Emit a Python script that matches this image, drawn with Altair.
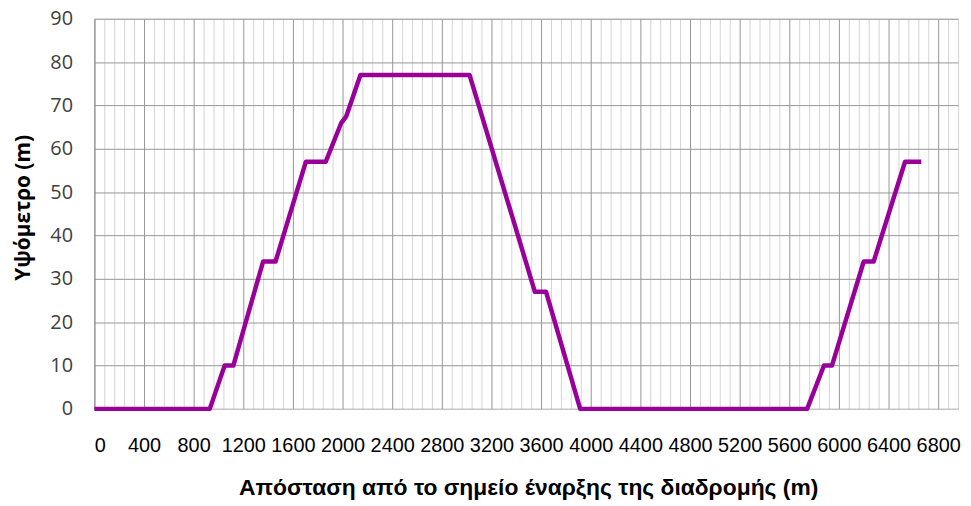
import altair as alt
import pandas as pd

distance = [0, 930, 1050, 1120, 1360, 1460, 1704, 1864, 1990, 2030, 2144,
            3024, 3550, 3640, 3915, 5744, 5880, 5944, 6200, 6280, 6533, 6664]
elevation = [0, 0, 10, 10, 34, 34, 57, 57, 66, 67.5, 77,
             77, 27, 27, 0, 0, 10, 10, 34, 34, 57, 57]

x_grid_values = list(range(0, 6961, 80))
y_tick_values = list(range(0, 91, 10))

df = pd.DataFrame({"d": distance, "h": elevation})

x_title = "Απόσταση από το σημείο έναρξης της διαδρομής (m)"
y_title = "Υψόμετρο (m)"

chart = alt.Chart(df).mark_line(
    color="#990099", strokeWidth=4.5, strokeJoin="round"
).encode(
    x=alt.X("d:Q",
            scale=alt.Scale(domain=[0, 6960], nice=False, zero=False),
            axis=alt.Axis(
                values=x_grid_values,
                grid=True,
                gridColor={"condition": {"test": "datum.value % 400 === 0", "value": "#969696"},
                           "value": "#d4d4d4"},
                gridWidth=1,
                ticks=False,
                domainColor="#c4c4c4",
                domainWidth=1.5,
                labelExpr="datum.value % 400 === 0 ? datum.label : ''",
                format="d",
                labelOverlap=False,
                labelFont="Liberation Sans",
                labelFontSize=20,
                labelColor="#000000",
                labelPadding=27,
                title=x_title,
                titleFont="Liberation Sans",
                titleFontSize=23,
                titleFontWeight="bold",
                titleColor="#000000",
                titleX=437,
                titleY=86,
                titleBaseline="alphabetic",
                titleAlign="center",
            )),
    y=alt.Y("h:Q",
            scale=alt.Scale(domain=[0, 90], nice=False),
            axis=alt.Axis(
                values=y_tick_values,
                grid=True,
                gridColor="#969696",
                gridWidth=1,
                ticks=False,
                domainColor="#969696",
                labelFont="Open Sans",
                labelFontSize=20,
                labelColor="#404040",
                labelPadding=22,
                title=y_title,
                titleFont="Open Sans",
                titleFontSize=21,
                titleFontWeight="bold",
                titleColor="#000000",
                titleX=-65,
                titleY=190,
                titleAngle=270,
                titleBaseline="alphabetic",
                titleAlign="center",
            )),
).properties(
    width=870,
    height=393,
    autosize=alt.AutoSizeParams(type="none"),
    padding={"left": 87, "top": 9, "right": 5, "bottom": 95},
).configure_view(stroke=None).configure(background="white")

chart.save("out.html", embed_options={"renderer": "svg", "actions": False})
